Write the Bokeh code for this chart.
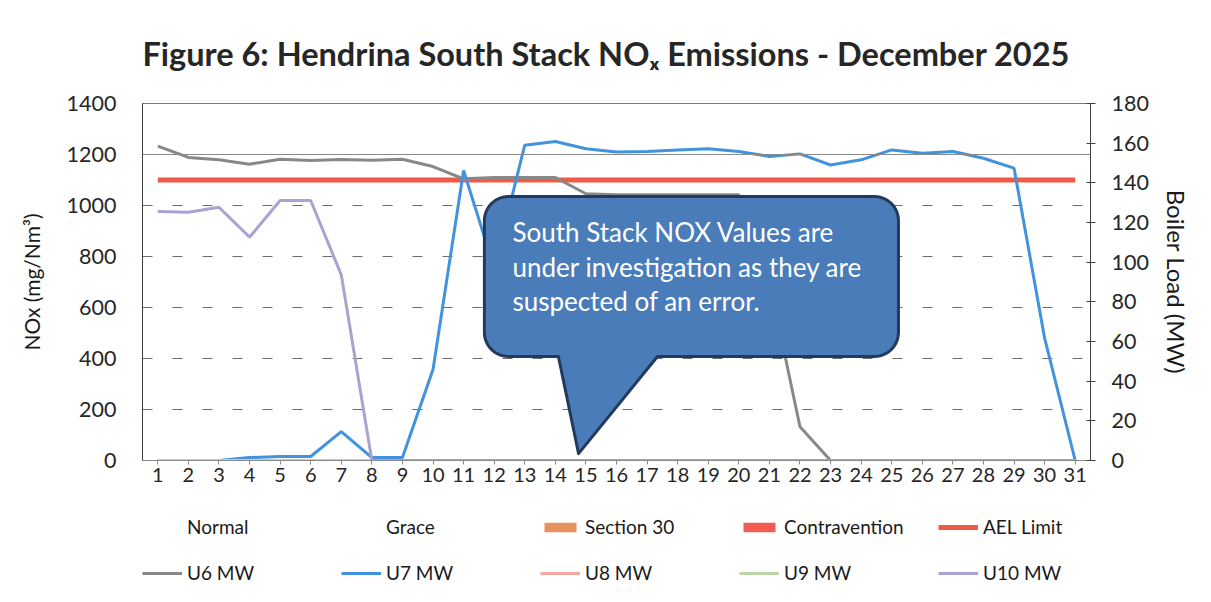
import numpy as np
from bokeh.plotting import figure
from bokeh.layouts import column
from bokeh.models import (Range1d, LinearAxis, FixedTicker, Legend, LegendItem,
                          Label, Span)
from bokeh.embed import file_html
from bokeh.resources import INLINE

# ---------------- data ----------------
days = list(range(1, 32))
normal = [0] * 31
grace = [0] * 31
section30 = [0] * 31
contravention = [0] * 31
ael_limit = [1100] * 31
u6_mw = [158.5, 152.8, 151.6, 149.4, 151.9, 151.3, 151.8, 151.4, 151.9, 148.2,
         142.0, 142.7, 142.7, 142.7, 134.5, 134.0, 134.0, 134.0, 134.0, 134.0,
         90.0, 17.0, 0, 0, 0, 0, 0, 0, 0, 0, 0]
u7_mw = [0, 0, 0, 1.5, 2.0, 2.0, 14.6, 1.5, 1.5, 45.9,
         146.2, 97.0, 159.0, 160.8, 157.2, 155.5, 155.8, 156.6, 157.2, 155.8,
         153.3, 154.6, 149.0, 151.6, 156.6, 154.9, 155.8, 152.4, 147.4, 61.7, 0]
u8_mw = [0] * 31
u9_mw = [0] * 31
u10_mw = [125.5, 125.2, 127.7, 112.6, 131.1, 131.1, 93.6, 0, 0, 0,
          0, 0, 0, 0, 0, 0, 0, 0, 0, 0,
          0, 0, 0, 0, 0, 0, 0, 0, 0, 0, 0]
left_ticks = [0, 200, 400, 600, 800, 1000, 1200, 1400]
right_ticks = [0, 20, 40, 60, 80, 100, 120, 140, 160, 180]

TITLE = "Figure 6: Hendrina South Stack NO\u2093 Emissions - December 2025"
NOTE = ["South Stack NOX Values are",
        "under investigation as they are",
        "suspected of an error."]

FONT = "Lato"
FRAME_W, FRAME_H = 948, 357
BORDER_L, BORDER_R, BORDER_T, BORDER_B = 142, 113, 102, 40
TOTAL_W = BORDER_L + FRAME_W + BORDER_R
LEGEND_H = 602 - (BORDER_T + FRAME_H + BORDER_B)

p = figure(frame_width=FRAME_W, frame_height=FRAME_H,
           min_border_left=BORDER_L, min_border_right=BORDER_R,
           min_border_top=BORDER_T, min_border_bottom=BORDER_B,
           x_range=Range1d(0.5, 31.5), y_range=Range1d(0, 1400),
           output_backend="svg", toolbar_location=None,
           background_fill_color="white", border_fill_color="white")
p.extra_y_ranges = {"mw": Range1d(0, 180)}

# title
p.title.text = TITLE
p.title.text_font = FONT
p.title.text_font_size = "32.5px"
p.title.text_font_style = "bold"
p.title.text_color = "#262626"
p.title.align = "left"
p.title.standoff = 62
p.title.offset = 0

p.outline_line_color = "#7a7a7a"
p.outline_line_width = 1

# grid
p.xgrid.grid_line_color = None
p.ygrid.ticker = FixedTicker(ticks=left_ticks)
p.ygrid.grid_line_color = "#6e6e6e"
p.ygrid.grid_line_dash = "10 20"
p.ygrid.grid_line_width = 1
p.add_layout(Span(location=1200, dimension="width", line_color="#8a8a8a", line_width=1))

# axes
xa = p.xaxis[0]
xa.ticker = FixedTicker(ticks=days)
xa.major_label_text_font = FONT
xa.major_label_text_font_size = "20px"
xa.major_label_text_color = "#262626"
xa.axis_line_color = "#8a8a8a"
xa.major_tick_line_color = "#8a8a8a"
xa.major_tick_in = 0
xa.major_tick_out = 4
xa.minor_tick_line_color = None
xa.major_label_standoff = 3

ya = p.yaxis[0]
ya.ticker = FixedTicker(ticks=left_ticks)
ya.axis_label = "NOx (mg/Nm\u00b3)"
ya.axis_label_text_font = FONT
ya.axis_label_text_font_size = "21px"
ya.axis_label_text_font_style = "normal"
ya.axis_label_text_color = "#1a1a1a"
ya.axis_label_standoff = 20
ya.major_label_text_font = FONT
ya.major_label_text_font_size = "21.5px"
ya.major_label_text_color = "#262626"
ya.axis_line_color = "#404040"
ya.major_tick_line_color = None
ya.minor_tick_line_color = None
ya.major_label_standoff = 20

ra = LinearAxis(y_range_name="mw", ticker=FixedTicker(ticks=right_ticks))
ra.axis_label = "Boiler Load (MW)"
ra.axis_label_text_font = FONT
ra.axis_label_text_font_size = "24px"
ra.axis_label_text_font_style = "normal"
ra.axis_label_text_color = "#1a1a1a"
ra.axis_label_standoff = 10
ra.major_label_text_font = FONT
ra.major_label_text_font_size = "21.5px"
ra.major_label_text_color = "#262626"
ra.axis_line_color = "#404040"
ra.major_tick_line_color = "#404040"
ra.major_tick_in = 4
ra.major_tick_out = 5
ra.minor_tick_line_color = None
ra.major_label_standoff = 16
p.add_layout(ra, "right")

# stacked columns (all zero this month)
b0 = np.zeros(31)
t1 = b0 + np.array(normal)
t2 = t1 + np.array(grace)
t3 = t2 + np.array(section30)
t4 = t3 + np.array(contravention)

STYLES = {
    "Normal": dict(kind="bar", fill_alpha=0, line_alpha=0),
    "Grace": dict(kind="bar", fill_alpha=0, line_alpha=0),
    "Section 30": dict(kind="bar", fill_color="#E5945E", line_alpha=0),
    "Contravention": dict(kind="bar", fill_color="#F25C53", line_alpha=0),
    "AEL Limit": dict(kind="line", line_color="#EF5B47", line_width=5),
    "U6 MW": dict(kind="line", line_color="#888888", line_width=3),
    "U7 MW": dict(kind="line", line_color="#4193DD", line_width=3),
    "U8 MW": dict(kind="line", line_color="#F2A7A3", line_width=3),
    "U9 MW": dict(kind="line", line_color="#BCD8A8", line_width=3),
    "U10 MW": dict(kind="line", line_color="#ABA2D4", line_width=3),
}

def kw(name):
    d = dict(STYLES[name]); d.pop("kind"); return d

p.vbar(x=days, bottom=b0, top=t1, width=0.5, **kw("Normal"))
p.vbar(x=days, bottom=t1, top=t2, width=0.5, **kw("Grace"))
p.vbar(x=days, bottom=t2, top=t3, width=0.5, **kw("Section 30"))
p.vbar(x=days, bottom=t3, top=t4, width=0.5, **kw("Contravention"))

# AEL limit
p.line(days, ael_limit, **kw("AEL Limit"))

# MW lines
p.line(days, u6_mw, y_range_name="mw", **kw("U6 MW"))
p.line(days, u7_mw, y_range_name="mw", **kw("U7 MW"))
p.line(days, u8_mw, y_range_name="mw", **kw("U8 MW"))
p.line(days, u9_mw, y_range_name="mw", **kw("U9 MW"))
p.line(days, u10_mw, y_range_name="mw", **kw("U10 MW"))

# callout shape (annotation)
XPX = FRAME_W / 31.0
YPX = FRAME_H / 1400.0
CX0, CX1, CY0, CY1 = 11.68, 25.22, 408, 1035
BASE_X0, BASE_X1, TIP_X, TIP_Y = 14.10, 17.34, 14.76, 27
RAD = 24

def callout_path():
    rx, ry = RAD / XPX, RAD / YPX
    xs, ys = [BASE_X1], [CY0]
    corners = [((CX1 - rx, CY0 + ry), -90, 0),
               ((CX1 - rx, CY1 - ry), 0, 90),
               ((CX0 + rx, CY1 - ry), 90, 180),
               ((CX0 + rx, CY0 + ry), 180, 270)]
    for (cx, cy), a0, a1 in corners:
        for a in np.linspace(np.radians(a0), np.radians(a1), 14):
            xs.append(cx + rx * np.cos(a))
            ys.append(cy + ry * np.sin(a))
    xs += [BASE_X0, TIP_X, BASE_X1]
    ys += [CY0, TIP_Y, CY0]
    return xs, ys

cxs, cys = callout_path()
p.patch(cxs, cys, fill_color="#4A7CBA", line_color="#223B5C", line_width=3,
        line_join="round")

for i, line in enumerate(NOTE):
    p.add_layout(Label(x=12.6, y=896 - i * 136, text=line, text_color="white",
                       text_font=FONT, text_font_size="26px",
                       text_baseline="middle", text_align="left"))

# ---------------- legend strip below the chart ----------------
lg = figure(width=TOTAL_W, height=LEGEND_H, x_range=Range1d(0, 1), y_range=Range1d(0, 1),
            x_axis_type=None, y_axis_type=None, min_border=0,
            output_backend="svg", toolbar_location=None,
            background_fill_color="white", border_fill_color="white")
lg.outline_line_color = None
lg.grid.grid_line_color = None

items = []
for name in ["Normal", "Grace", "Section 30", "Contravention", "AEL Limit",
             "U6 MW", "U7 MW", "U8 MW", "U9 MW", "U10 MW"]:
    st = STYLES[name]
    if st["kind"] == "bar":
        r = lg.vbar(x=[-10], bottom=[-10], top=[-9], width=0.1, **kw(name))
    else:
        r = lg.line(x=[-10, -9], y=[-10, -10], **kw(name))
    items.append(LegendItem(label=name, renderers=[r]))

legend = Legend(items=items, orientation="horizontal", ncols=5,
                location=(0, 19), padding=0, margin=0,
                spacing=23, glyph_width=40, glyph_height=12,
                label_standoff=5, label_width=131, label_height=22,
                label_text_font=FONT, label_text_font_size="19px",
                label_text_color="#1a1a1a",
                border_line_color=None, background_fill_alpha=0)
lg.add_layout(legend, "center")

layout = column(p, lg, spacing=0)
open("out.html", "w").write(file_html(layout, INLINE))
